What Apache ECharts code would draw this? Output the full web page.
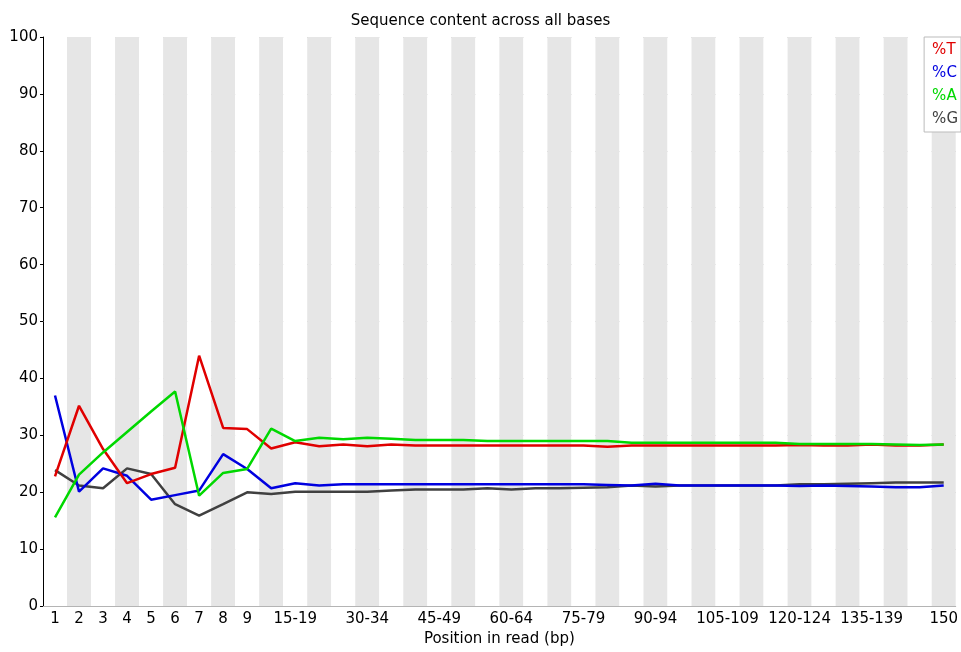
<!DOCTYPE html>
<html>
<head>
<meta charset="utf-8">
<script src="https://cdn.jsdelivr.net/npm/echarts@6/dist/echarts.min.js"></script>
<style>
  html, body { margin: 0; padding: 0; background: #fff; }
  #chart { width: 961px; height: 652px; }
</style>
</head>
<body>
<div id="chart"></div>
<script>
var positions = ['1', '2', '3', '4', '5', '6', '7', '8', '9',
    '10-14', '15-19', '20-24', '25-29', '30-34', '35-39', '40-44', '45-49',
    '50-54', '55-59', '60-64', '65-69', '70-74', '75-79', '80-84', '85-89',
    '90-94', '95-99', '100-104', '105-109', '110-114', '115-119', '120-124',
    '125-129', '130-134', '135-139', '140-144', '145-149', '150'];

var pctT = [22.8, 35.2, 27.6, 21.6, 23.2, 24.3, 44.0, 31.3, 31.1, 27.7,
    28.8, 28.1, 28.4, 28.1, 28.4, 28.2, 28.2, 28.2, 28.2, 28.2,
    28.2, 28.2, 28.2, 28.0, 28.2, 28.2, 28.2, 28.2, 28.2, 28.2,
    28.2, 28.3, 28.2, 28.2, 28.4, 28.2, 28.2, 28.4];
var pctC = [37.0, 20.1, 24.2, 22.9, 18.7, 19.5, 20.3, 26.7, 24.1, 20.7,
    21.6, 21.2, 21.4, 21.4, 21.4, 21.4, 21.4, 21.4, 21.4, 21.4,
    21.4, 21.4, 21.4, 21.3, 21.2, 21.5, 21.2, 21.2, 21.2, 21.2,
    21.2, 21.1, 21.2, 21.1, 21.0, 20.9, 20.9, 21.2];
var pctA = [15.6, 23.1, 27.0, 30.6, 34.2, 37.7, 19.4, 23.4, 24.1, 31.2,
    29.0, 29.6, 29.3, 29.6, 29.4, 29.2, 29.2, 29.2, 29.0, 29.0,
    29.0, 29.0, 29.0, 29.0, 28.7, 28.7, 28.7, 28.7, 28.7, 28.7,
    28.7, 28.5, 28.5, 28.5, 28.5, 28.4, 28.3, 28.4];
var pctG = [23.9, 21.2, 20.7, 24.2, 23.2, 17.9, 15.9, 17.9, 20.0, 19.7,
    20.1, 20.1, 20.1, 20.1, 20.3, 20.5, 20.5, 20.5, 20.7, 20.5,
    20.7, 20.7, 20.8, 20.9, 21.2, 21.0, 21.2, 21.2, 21.2, 21.2,
    21.2, 21.4, 21.4, 21.5, 21.6, 21.7, 21.7, 21.7];

var font = 'DejaVu Sans';

var myChart = echarts.init(document.getElementById('chart'));
var option = {
    animation: false,
    backgroundColor: '#fff',
    title: {
        text: 'Sequence content across all bases',
        left: 'center',
        top: 9,
        textStyle: {fontFamily: font, fontSize: 15, fontWeight: 'normal', color: '#000'}
    },
    legend: {
        orient: 'vertical',
        right: 0,
        top: 37,
        icon: 'none',
        itemWidth: 0,
        itemHeight: 15,
        itemGap: 8,
        padding: [6, 3, 5, 3],
        backgroundColor: '#fff',
        borderColor: '#bbb',
        borderWidth: 1,
        borderRadius: 0,
        selectedMode: false,
        data: [
            {name: '%T', textStyle: {color: '#e00000'}},
            {name: '%C', textStyle: {color: '#0000e0'}},
            {name: '%A', textStyle: {color: '#00d800'}},
            {name: '%G', textStyle: {color: '#404040'}}
        ],
        textStyle: {fontFamily: font, fontSize: 15, padding: 0}
    },
    grid: {left: 43, right: 3, top: 37, bottom: 42},
    xAxis: {
        type: 'category',
        data: positions,
        boundaryGap: true,
        name: 'Position in read (bp)',
        nameLocation: 'middle',
        nameGap: 25,
        nameTextStyle: {fontFamily: font, fontSize: 15, color: '#000'},
        axisLine: {lineStyle: {color: '#b4b4b4', width: 1}},
        axisTick: {show: false},
        axisLabel: {
            fontFamily: font, fontSize: 15, color: '#000', margin: 6,
            interval: function (idx) {
                return idx < 9 || (idx >= 10 && (idx - 10) % 3 === 0);
            }
        },
        splitLine: {show: false},
        splitArea: {
            show: true,
            interval: 0,
            areaStyle: {color: ['rgba(255,255,255,1)', 'rgba(230,230,230,1)']}
        }
    },
    yAxis: {
        type: 'value',
        min: 0,
        max: 100,
        interval: 10,
        axisLine: {show: true, lineStyle: {color: '#000', width: 1}},
        axisTick: {show: true, length: 3, lineStyle: {color: '#000'}},
        axisLabel: {fontFamily: font, fontSize: 15, color: '#000', margin: 5},
        splitLine: {lineStyle: {color: '#bebebe', width: 1}}
    },
    series: [
        {name: '%T', type: 'line', data: pctT, showSymbol: false, z: 5,
            lineStyle: {color: '#e00000', width: 2.5}, itemStyle: {color: '#e00000'}},
        {name: '%C', type: 'line', data: pctC, showSymbol: false, z: 4,
            lineStyle: {color: '#0000e0', width: 2.5}, itemStyle: {color: '#0000e0'}},
        {name: '%A', type: 'line', data: pctA, showSymbol: false, z: 6,
            lineStyle: {color: '#00d800', width: 2.5}, itemStyle: {color: '#00d800'}},
        {name: '%G', type: 'line', data: pctG, showSymbol: false, z: 3,
            lineStyle: {color: '#404040', width: 2.5}, itemStyle: {color: '#404040'}}
    ]
};
myChart.setOption(option);
</script>
</body>
</html>
